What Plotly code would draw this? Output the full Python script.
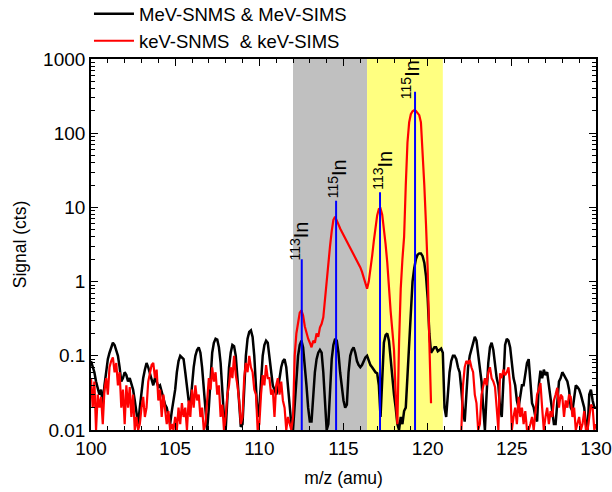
import numpy as np
import plotly.graph_objects as go

# mass axis, 0.1 amu steps from 100 to 130
mass = np.round(np.arange(1000, 1301) / 10.0, 1)

# MeV-SNMS & MeV-SIMS signal (cts), one row per amu
mev_signal = [
    0.085, 0.07, 0.06, 0.045, 0.038, 0.03, 0.035, 0.022, 0.04, 0.065,      # 100
    0.09, 0.11, 0.13, 0.15, 0.14, 0.12, 0.1, 0.07, 0.045, 0.05,            # 101
    0.06, 0.055, 0.045, 0.05, 0.04, 0.035, 0.025, 0.018, 0.012, 0.02,      # 102
    0.035, 0.05, 0.065, 0.08, 0.07, 0.055, 0.048, 0.04, 0.05, 0.045,       # 103
    0.038, 0.04, 0.032, 0.028, 0.022, 0.02, 0.015, 0.012, 0.018, 0.025,    # 104
    0.035, 0.06, 0.085, 0.1, 0.095, 0.09, 0.06, 0.04, 0.025, 0.022,        # 105
    0.04, 0.07, 0.1, 0.12, 0.13, 0.11, 0.07, 0.035, 0.015, 0.01,           # 106
    0.02, 0.06, 0.11, 0.15, 0.17, 0.165, 0.13, 0.08, 0.035, 0.015,         # 107
    0.01, 0.025, 0.07, 0.11, 0.14, 0.135, 0.1, 0.05, 0.02, 0.011,          # 108
    0.012, 0.04, 0.1, 0.17, 0.21, 0.22, 0.18, 0.1, 0.04, 0.015,            # 109
    0.02, 0.05, 0.1, 0.14, 0.16, 0.15, 0.1, 0.06, 0.04, 0.035,             # 110
    0.03, 0.035, 0.05, 0.07, 0.085, 0.09, 0.07, 0.04, 0.02, 0.012,         # 111
    0.01, 0.02, 0.05, 0.1, 0.14, 0.16, 0.13, 0.08, 0.04, 0.02,             # 112
    0.013, 0.013, 0.03, 0.06, 0.09, 0.11, 0.12, 0.11, 0.06, 0.02,          # 113
    0.01, 0.012, 0.04, 0.09, 0.14, 0.17, 0.16, 0.11, 0.06, 0.035,          # 114
    0.025, 0.02, 0.022, 0.06, 0.1, 0.12, 0.13, 0.11, 0.085, 0.075,         # 115
    0.07, 0.075, 0.085, 0.095, 0.1, 0.085, 0.075, 0.07, 0.065, 0.06,       # 116
    0.058, 0.04, 0.015, 0.06, 0.15, 0.19, 0.2, 0.16, 0.09, 0.045,          # 117
    0.03, 0.02, 0.012, 0.01, 0.015, 0.012, 0.018, 0.02, 0.05, 0.15,        # 118
    0.45, 1.0, 1.5, 2.0, 2.3, 2.4, 2.4, 2.2, 1.8, 1.2,                     # 119
    0.6, 0.2, 0.11, 0.12, 0.13, 0.13, 0.115, 0.12, 0.125, 0.11,            # 120
    0.02, 0.015, 0.03, 0.06, 0.085, 0.1, 0.1, 0.09, 0.07, 0.06,            # 121
    0.035, 0.018, 0.013, 0.03, 0.07, 0.1, 0.12, 0.14, 0.18, 0.16,          # 122
    0.1, 0.06, 0.045, 0.02, 0.01, 0.03, 0.08, 0.13, 0.15, 0.12,            # 123
    0.08, 0.05, 0.04, 0.02, 0.015, 0.06, 0.14, 0.17, 0.16, 0.13,           # 124
    0.08, 0.05, 0.04, 0.025, 0.02, 0.03, 0.04, 0.04, 0.06, 0.08,           # 125
    0.09, 0.05, 0.023, 0.02, 0.015, 0.013, 0.04, 0.063, 0.05, 0.065,       # 126
    0.055, 0.06, 0.04, 0.025, 0.018, 0.012, 0.012, 0.025, 0.045, 0.05,     # 127
    0.06, 0.055, 0.05, 0.045, 0.035, 0.02, 0.018, 0.03, 0.04, 0.038,       # 128
    0.035, 0.03, 0.025, 0.02, 0.012, 0.01, 0.03, 0.035, 0.025, 0.02,       # 129
    0.02,                                                                  # 130
]

# keV-SNMS & keV-SIMS signal (cts); no data between 120.3 and 121.9 amu
kev_signal = [
    0.05, 0.02, 0.045, 0.01, 0.03, 0.02, 0.028, 0.012, 0.035, 0.05,        # 100
    0.03, 0.07, 0.085, 0.095, 0.06, 0.08, 0.04, 0.06, 0.02, 0.035,         # 101
    0.012, 0.04, 0.02, 0.038, 0.015, 0.03, 0.01, 0.015, 0.01, 0.012,       # 102
    0.02, 0.028, 0.015, 0.02, 0.045, 0.06, 0.075, 0.08, 0.05, 0.065,       # 103
    0.025, 0.035, 0.015, 0.03, 0.02, 0.012, 0.018, 0.01, 0.012, 0.01,      # 104
    0.015, 0.01, 0.02, 0.012, 0.023, 0.015, 0.02, 0.01, 0.025, 0.015,      # 105
    0.035, 0.02, 0.04, 0.025, 0.03, 0.015, 0.02, 0.01, 0.012, 0.03,        # 106
    0.05, 0.035, 0.07, 0.045, 0.06, 0.03, 0.04, 0.015, 0.022, 0.01,        # 107
    0.015, 0.03, 0.04, 0.07, 0.05, 0.1, 0.055, 0.04, 0.025, 0.012,         # 108
    0.015, 0.05, 0.08, 0.06, 0.1, 0.07, 0.06, 0.035, 0.03, 0.01,           # 109
    0.012, 0.03, 0.055, 0.04, 0.075, 0.05, 0.05, 0.03, 0.035, 0.015,       # 110
    0.04, 0.05, 0.03, 0.045, 0.025, 0.02, 0.01, 0.015, 0.012, 0.01,        # 111
    0.015, 0.1, 0.2, 0.3, 0.38, 0.41, 0.35, 0.25, 0.2, 0.17,               # 112
    0.15, 0.13, 0.16, 0.15, 0.2, 0.18, 0.24, 0.27, 0.33, 0.6,              # 113
    1.1, 1.9, 3.0, 4.8, 6.8, 7.5, 6.8, 5.9, 5.2, 4.7,                      # 114
    4.3, 3.9, 3.6, 3.2, 2.9, 2.6, 2.3, 2.1, 1.9, 1.7,                      # 115
    1.55, 1.35, 1.15, 0.95, 0.8, 1.0, 1.4, 2.2, 3.5, 5.5,                  # 116
    7.8, 9.5, 9.7, 8.0, 5.5, 3.2, 1.8, 0.7, 0.4, 0.22,                     # 117
    0.12, 0.03, 0.012, 0.15, 0.8, 2.0, 4.0, 20, 75, 140,                   # 118
    180, 198, 204, 200, 190, 175, 140, 62, 20, 6,                          # 119
    1.5, 0.15, 0.023, None, None, None, None, None, None, None,            # 120
    None, None, None, None, None, None, None, None, None, None,            # 121
    0.01, 0.04, 0.07, 0.085, 0.08, 0.088, 0.07, 0.06, 0.03, 0.023,         # 122
    0.01, 0.012, 0.03, 0.038, 0.05, 0.04, 0.06, 0.07, 0.05, 0.045,         # 123
    0.038, 0.02, 0.01, 0.058, 0.05, 0.065, 0.055, 0.06, 0.07, 0.04,        # 124
    0.01, 0.015, 0.02, 0.012, 0.028, 0.015, 0.02, 0.012, 0.018, 0.01,      # 125
    0.01, 0.012, 0.015, 0.01, 0.02, 0.03, 0.035, 0.043, 0.02, 0.01,        # 126
    0.015, 0.02, 0.012, 0.018, 0.015, 0.025, 0.03, 0.037, 0.02, 0.03,      # 127
    0.028, 0.015, 0.025, 0.02, 0.03, 0.028, 0.015, 0.02, 0.01, 0.012,      # 128
    0.015, 0.01, 0.012, 0.018, 0.01, 0.01, 0.015, 0.022, 0.02, 0.01,       # 129
    0.012,                                                                 # 130
]

# indium isotope reference lines: position (amu), line height (cts), mass number
isotope_mass = [112.52, 114.56, 117.17, 119.25]
isotope_height = [2.0, 12.3, 16.0, 363.0]
isotope_label = ["113", "115", "113", "115"]

# shaded mass windows (amu)
gray_window = [112.0, 116.4]
yellow_window = [116.4, 120.9]

x_ticks = [100, 105, 110, 115, 120, 125, 130]
y_ticks = [0.01, 0.1, 1, 10, 100, 1000]
y_ticktext = ["0.01", "0.1", "1", "10", "100", "1000"]

FONT = "Liberation Sans, Arial, sans-serif"
Y_FLOOR = 0.01

fig = go.Figure()

fig.add_vrect(x0=gray_window[0], x1=gray_window[1], fillcolor="#c0c0c0",
              line_width=0, layer="below", opacity=1)
fig.add_vrect(x0=yellow_window[0], x1=yellow_window[1], fillcolor="#ffff80",
              line_width=0, layer="below", opacity=1)

fig.add_trace(go.Scatter(
    x=mass, y=mev_signal, mode="lines", name="MeV-SNMS & MeV-SIMS",
    line=dict(color="black", width=2.5), connectgaps=False,
))
fig.add_trace(go.Scatter(
    x=mass, y=kev_signal, mode="lines", name="keV-SNMS  & keV-SIMS",
    line=dict(color="#ff0000", width=2.2), connectgaps=False,
))

# vertical isotope markers
bx, by = [], []
for m, h in zip(isotope_mass, isotope_height):
    bx += [m, m, None]
    by += [Y_FLOOR, h, None]
fig.add_trace(go.Scatter(
    x=bx, y=by, mode="lines", showlegend=False, hoverinfo="skip",
    line=dict(color="#0000ff", width=2),
))

label_xshift = [-2, 1, 3, -5]
label_yshift = [-3, 0, 0, -10]
for m, h, lab, dx, dy in zip(isotope_mass, isotope_height, isotope_label,
                             label_xshift, label_yshift):
    fig.add_annotation(
        x=m, y=np.log10(h), xref="x", yref="y",
        text=f"<sup>{lab}</sup>In", textangle=-90, showarrow=False,
        xanchor="center", yanchor="bottom", xshift=dx, yshift=dy,
        font=dict(family=FONT, size=20, color="black"),
    )

minor_y = [d * 10.0 ** e for e in range(-2, 3) for d in range(2, 10)]

fig.update_layout(
    width=612, height=492,
    margin=dict(l=91, r=16, t=59, b=62, autoexpand=False),
    paper_bgcolor="white", plot_bgcolor="white",
    font=dict(family=FONT, size=18, color="black"),
    showlegend=True,
    legend=dict(
        x=-0.004, y=1.172, xanchor="left", yanchor="top",
        bgcolor="rgba(0,0,0,0)", font=dict(family=FONT, size=18.5),
        tracegroupgap=0, itemwidth=40,
    ),
    xaxis=dict(
        range=[100, 130], tickvals=x_ticks, ticks="inside", ticklen=7,
        tickwidth=1.3, tickcolor="black",
        minor=dict(dtick=1, ticks="inside", ticklen=4, tickwidth=1.1,
                   tickcolor="black", showgrid=False),
        showline=True, linewidth=1.6, linecolor="black", mirror="ticks",
        showgrid=False, zeroline=False,
        tickfont=dict(family=FONT, size=19),
        title=dict(text="m/z (amu)", font=dict(family=FONT, size=17.5), standoff=14),
    ),
    yaxis=dict(
        type="log", range=[-2, 3], tickvals=y_ticks, ticktext=y_ticktext,
        ticks="inside", ticklen=7, tickwidth=1.3, tickcolor="black",
        minor=dict(tickvals=minor_y, ticks="inside", ticklen=4, tickwidth=1.1,
                   tickcolor="black", showgrid=False),
        showline=True, linewidth=1.6, linecolor="black", mirror="ticks",
        showgrid=False, zeroline=False,
        tickfont=dict(family=FONT, size=19),
        title=dict(text="Signal (cts)", font=dict(family=FONT, size=17.5), standoff=12),
    ),
)

fig.write_html("out.html")
